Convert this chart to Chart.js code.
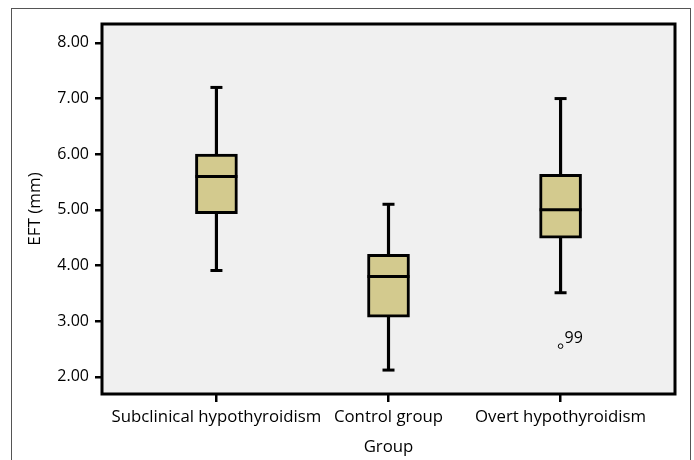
<!DOCTYPE html>
<html>
<head>
<meta charset="utf-8">
<script src="https://cdn.jsdelivr.net/npm/chart.js@4.4.1/dist/chart.umd.min.js"></script>
<style>
  body { margin: 0; background: #fff; }
  #wrap { position: relative; width: 694px; height: 460px; }
  #frame { position: absolute; left: 11px; top: 8px; width: 680px; height: 460px; border: 1.5px solid #555; border-bottom: none; box-sizing: border-box; }
  canvas { position: absolute; left: 0; top: 0; }
</style>
</head>
<body>
<div id="wrap">
  <div id="frame"></div>
  <canvas id="grafico_caja" width="694" height="460"></canvas>
</div>
<script>
// datos
const grupos = ['Subclinical hypothyroidism', 'Control group', 'Overt hypothyroidism']
const minimos = [3.91, 2.12, 3.51]
const q1 = [4.93, 3.07, 4.49]
const medianas = [5.6, 3.8, 5.0]
const q3 = [6.0, 4.2, 5.64]
const maximos = [7.2, 5.1, 7.0]
const atipicosGrupo = [2]
const atipicosValor = [2.55]
const atipicosEtiqueta = ['99']
const ticksY = [2, 3, 4, 5, 6, 7, 8]

const fuente = "'Open Sans', sans-serif"

const puntos = (arr) => arr.map((v, i) => ({ x: i, y: v }))

const fondoPlot = {
  id: 'fondoPlot',
  beforeDatasetsDraw(chart) {
    const { ctx, chartArea: a } = chart
    ctx.save()
    ctx.fillStyle = '#f0f0f0'
    ctx.fillRect(a.left, a.top, a.right - a.left, a.bottom - a.top)
    ctx.restore()
  },
  afterDatasetsDraw(chart) {
    const { ctx, chartArea: a } = chart
    ctx.save()
    ctx.strokeStyle = '#000'
    ctx.lineWidth = 3
    ctx.strokeRect(a.left, a.top, a.right - a.left, a.bottom - a.top)
    // etiqueta de los atipicos
    const meta = chart.getDatasetMeta(4)
    ctx.fillStyle = '#000'
    ctx.font = '16px ' + fuente
    ctx.textBaseline = 'alphabetic'
    meta.data.forEach((p, i) => {
      ctx.fillText(atipicosEtiqueta[i], p.x + 4, p.y - 3)
    })
    ctx.restore()
  }
}

const ctx = document.getElementById('grafico_caja').getContext('2d')
const myChart = new Chart(ctx, {
  type: 'bar',
  data: {
    datasets: [{
      type: 'line', // medianas
      data: puntos(medianas),
      showLine: false,
      pointStyle: 'line',
      pointRadius: 21,
      pointBorderWidth: 3,
      pointBorderColor: '#000',
      order: 0
    }, {
      type: 'line', // topes de bigotes
      data: puntos(minimos).concat(puntos(maximos)),
      showLine: false,
      pointStyle: 'line',
      pointRadius: 6,
      pointBorderWidth: 3,
      pointBorderColor: '#000',
      order: 0
    }, {
      // cajas
      data: grupos.map((g, i) => ({ x: i, y: [q1[i], q3[i]] })),
      backgroundColor: '#d3ca8e',
      borderColor: '#000',
      borderWidth: 3,
      borderSkipped: false,
      barThickness: 42,
      grouped: false,
      order: 1
    }, {
      // bigotes
      data: grupos.map((g, i) => ({ x: i, y: [minimos[i], maximos[i]] })),
      backgroundColor: '#000',
      borderWidth: 0,
      barThickness: 2.5,
      grouped: false,
      order: 2
    }, {
      type: 'line', // atipicos
      data: atipicosGrupo.map((g, i) => ({ x: g, y: atipicosValor[i] })),
      showLine: false,
      pointStyle: 'circle',
      pointRadius: 2.3,
      pointBorderWidth: 1,
      pointBorderColor: '#000',
      pointBackgroundColor: '#f0f0f0',
      order: 0
    }]
  },
  options: {
    responsive: false,
    animation: false,
    events: [],
    layout: { autoPadding: false, padding: { top: 24, right: 19, left: 0, bottom: 0 } },
    plugins: { legend: { display: false }, tooltip: { enabled: false } },
    scales: {
      x: {
        type: 'linear',
        min: -0.665,
        max: 2.665,
        offset: false,
        afterBuildTicks: (s) => { s.ticks = grupos.map((g, i) => ({ value: i })) },
        afterFit: (s) => { s.height = 66; s.paddingLeft = 0; s.paddingRight = 0 },
        ticks: {
          callback: (v) => grupos[v],
          color: '#000',
          font: { family: fuente, size: 16.8 },
          padding: 5,
          maxRotation: 0,
          autoSkip: false
        },
        grid: { offset: false, drawOnChartArea: false, tickLength: 8, color: '#000', lineWidth: 2.5 },
        border: { display: false },
        title: { display: true, text: 'Group', color: '#000', font: { family: fuente, size: 16.8 }, padding: { top: 0, bottom: 3 } }
      },
      y: {
        min: 1.69,
        max: 8.34,
        afterBuildTicks: (s) => { s.ticks = ticksY.map(v => ({ value: v })) },
        afterFit: (s) => { s.width = 102 },
        ticks: {
          callback: (v) => v.toFixed(2),
          color: '#000',
          font: { family: fuente, size: 16 },
          padding: 6
        },
        grid: { drawOnChartArea: false, tickLength: 7, color: '#000', lineWidth: 2.5 },
        border: { display: false },
        title: { display: true, text: 'EFT (mm)', color: '#000', font: { family: fuente, size: 17 }, padding: { top: 25, bottom: 0 } }
      }
    }
  },
  plugins: [fondoPlot]
})
</script>
</body>
</html>
